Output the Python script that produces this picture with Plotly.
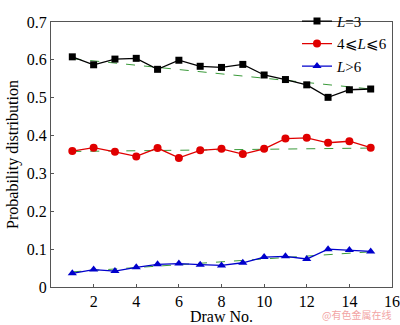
import plotly.graph_objects as go

draws = list(range(1, 16))
l3 = [0.608, 0.587, 0.602, 0.604, 0.575, 0.599, 0.583, 0.580, 0.588, 0.560, 0.548, 0.534, 0.501, 0.521, 0.523]
l46 = [0.359, 0.368, 0.357, 0.345, 0.367, 0.341, 0.361, 0.365, 0.351, 0.365, 0.392, 0.394, 0.381, 0.385, 0.368]
lg6 = [0.036, 0.046, 0.042, 0.052, 0.060, 0.062, 0.059, 0.057, 0.064, 0.079, 0.081, 0.074, 0.100, 0.098, 0.094]
trend_x = [1, 15]
trend_l3 = [0.603, 0.523]
trend_l46 = [0.358, 0.367]
trend_lg6 = [0.040, 0.093]

fig = go.Figure()
for ty in (trend_l3, trend_l46, trend_lg6):
    fig.add_trace(go.Scatter(x=trend_x, y=ty, mode="lines", showlegend=False,
                             line=dict(color="#3a9a3a", width=1, dash="dash")))
fig.add_trace(go.Scatter(x=draws, y=l3, mode="lines+markers", name="<i>L</i>=3",
                         line=dict(color="black", width=1.3),
                         marker=dict(symbol="square", size=7, color="black")))
fig.add_trace(go.Scatter(x=draws, y=l46, mode="lines+markers", name="4⩽<i>L</i>⩽6",
                         line=dict(color="#e00000", width=1.3),
                         marker=dict(symbol="circle", size=8, color="#e00000")))
fig.add_trace(go.Scatter(x=draws, y=lg6, mode="lines+markers", name="<i>L</i>>6",
                         line=dict(color="#0000cc", width=1.3),
                         marker=dict(symbol="triangle-up", size=8, color="#0000cc")))

serif = "Liberation Serif"
tickfont = dict(family=serif, size=16, color="black")
fig.update_layout(
    width=400, height=325,
    margin=dict(l=51, r=8, t=5, b=38),
    paper_bgcolor="white", plot_bgcolor="white",
    font=dict(family=serif, size=16, color="black"),
    showlegend=True,
    legend=dict(x=1.0, y=1.065, xanchor="right", yanchor="top", bgcolor="rgba(0,0,0,0)",
                font=dict(family=serif, size=15), tracegroupgap=0,
                itemwidth=30),
    xaxis=dict(range=[0, 16], tickvals=[0, 2, 4, 6, 8, 10, 12, 14, 16],
               ticktext=["", "2", "4", "6", "8", "10", "12", "14", "16"],
               tickfont=tickfont, ticklabeloverflow="allow", automargin=False,
               showgrid=False, zeroline=False, showline=True, mirror=True,
               linecolor="#555", linewidth=1, ticks="inside", ticklen=3, tickcolor="#555",
               title=dict(text="Draw No.", standoff=7, font=dict(family=serif, size=16))),
    yaxis=dict(range=[0, 0.7], tickvals=[0, 0.1, 0.2, 0.3, 0.4, 0.5, 0.6, 0.7],
               ticktext=["0", "0.1", "0.2", "0.3", "0.4", "0.5", "0.6", "0.7"],
               tickfont=tickfont, ticklabeloverflow="allow", automargin=False,
               showgrid=False, zeroline=False, showline=True, mirror=True,
               linecolor="#555", linewidth=1, ticks="inside", ticklen=3, tickcolor="#555",
               title=dict(text="Probability distribution", standoff=4,
                          font=dict(family=serif, size=16))),
)
fig.add_annotation(x=1.0, y=-0.1348, xref="paper", yref="paper", xanchor="right", yanchor="bottom",
                   text="@有色金属在线", showarrow=False, borderpad=0,
                   font=dict(family="Noto Sans CJK SC", size=10, color="#f2a4a4"))
fig.write_html("out.html")
